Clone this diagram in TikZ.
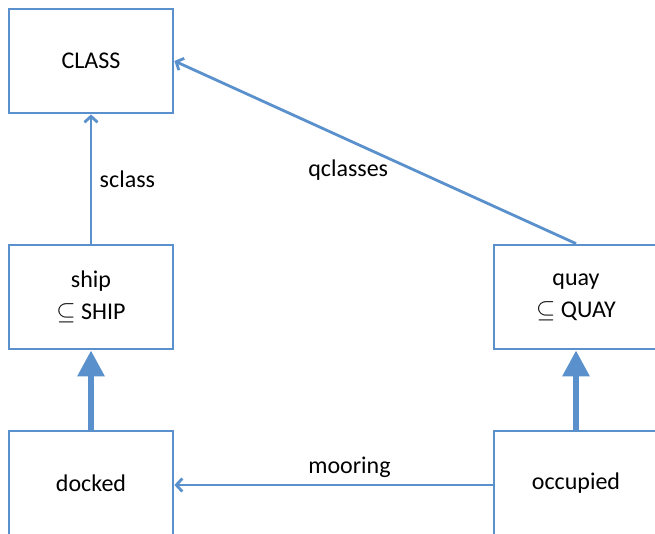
\documentclass[tikz,border=0pt]{standalone}
\usepackage{fontspec}
\setmainfont{Carlito}
\usetikzlibrary{arrows.meta}
\definecolor{boxblue}{RGB}{90,145,204}
\begin{document}
\begin{tikzpicture}[x=1pt, y=-1pt,
    every node/.style={font=\fontsize{24}{32}\selectfont},
    setbox/.style={draw=boxblue, line width=2.8pt, minimum width=164pt, minimum height=104pt, align=center, inner sep=0pt},
    thin arrow/.style={draw=boxblue, line width=2.8pt, -{Straight Barb[length=6pt,width=13pt]}},
    thick arrow/.style={draw=boxblue, line width=6pt, -{Triangle[length=26pt,width=26pt]}},
    edge label/.style={font=\fontsize{24}{28}\selectfont}]
        \useasboundingbox (0,0) rectangle (655,534);
        \node [setbox] (class) at (91, 61) {CLASS};
        \node [setbox] (ship) at (91, 297) {ship\\$\subseteq$ SHIP};
        \node [setbox] (quay) at (576, 297) {quay\\$\subseteq$ QUAY};
        \node [setbox] (docked) at (91, 483) {docked};
        \node [setbox] (occupied) at (576, 483) {occupied};
        \draw [thin arrow] (ship) -- node [midway, right=4pt, edge label] {sclass} (class);
        \draw [thin arrow] (quay.north) -- node [midway, xshift=-27pt, yshift=-18pt, edge label] {qclasses} (class.east);
        \draw [thin arrow] (occupied.west |- 0,485) -- node [midway, above=3pt, xshift=16pt, edge label] {mooring} (docked.east |- 0,485);
        \draw [thick arrow] (docked) -- (ship);
        \draw [thick arrow] (occupied) -- (quay);
      \end{tikzpicture}
\end{document}
